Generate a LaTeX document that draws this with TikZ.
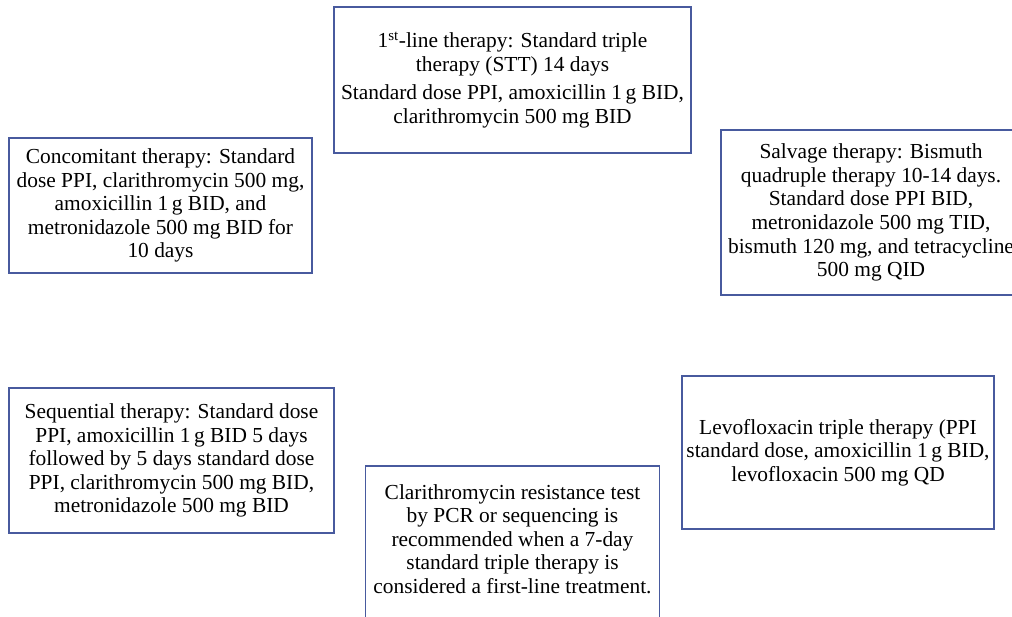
\documentclass[tikz,border=0pt]{standalone}
\usepackage{fontspec}
\setmainfont{Liberation Serif}
\usepackage{xcolor}
\usepackage{tikz}
\definecolor{frameblue}{RGB}{72,90,158}

\begin{document}
\begin{tikzpicture}[x=1pt, y=-1pt, every node/.style={align=center, inner sep=0pt, font=\fontsize{21.4}{23.6}\selectfont}, box/.style={draw=frameblue, line width=1.1pt}]
		% Page size, boxes on the edge are cut off
		\useasboundingbox (0,0) rectangle (1012,616);
		\clip (0,0) rectangle (1012,616);
		
		% Boxes
		\node[box, minimum width=357pt, minimum height=146pt] (stt) at (512.5,80) {1\textsuperscript{st}-line therapy: Standard triple\\therapy (STT) 14 days\\[5pt]Standard dose PPI, amoxicillin 1\,g BID,\\clarithromycin 500 mg BID};
		\node[box, minimum width=303pt, minimum height=135pt] (conc) at (160.5,205.5) {Concomitant therapy: Standard\\dose PPI, clarithromycin 500 mg,\\amoxicillin 1\,g BID, and\\metronidazole 500 mg BID for\\10 days};
		\node[box, minimum width=300pt, minimum height=165pt] (salv) at (871,212.5) {Salvage therapy: Bismuth\\quadruple therapy 10-14 days.\\Standard dose PPI BID,\\metronidazole 500 mg TID,\\bismuth 120 mg, and tetracycline\\500 mg QID};
		\node[box, minimum width=325pt, minimum height=145pt] (seq) at (171.5,460.5) {Sequential therapy: Standard dose\\PPI, amoxicillin 1\,g BID 5 days\\followed by 5 days standard dose\\PPI, clarithromycin 500 mg BID,\\metronidazole 500 mg BID};
		\node[box, minimum width=312pt, minimum height=153pt] (levo) at (838,452.5) {Levofloxacin triple therapy (PPI\\standard dose, amoxicillin 1\,g BID,\\levofloxacin 500 mg QD};
		
		% Resistance test box runs past the bottom
		\node[anchor=north, minimum width=293pt, inner ysep=18pt] (clar) at (512.5,466) {Clarithromycin resistance test\\by PCR or sequencing is\\recommended when a 7-day\\standard triple therapy is\\considered a first-line treatment.};
		\draw[box] (clar.north west) rectangle ([yshift=-40pt]clar.south east);
	\end{tikzpicture}
\end{document}
